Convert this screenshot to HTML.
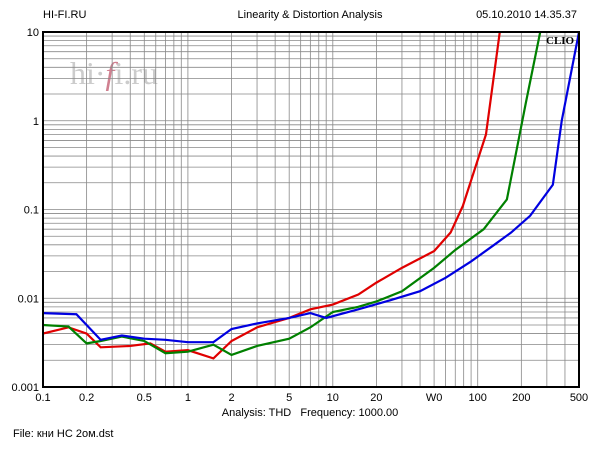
<!DOCTYPE html>
<html><head><meta charset="utf-8"><style>
body{margin:0;background:#fff;width:600px;height:450px;overflow:hidden}
svg text{font-family:"Liberation Sans","Noto Sans CJK SC",sans-serif;font-size:11px;fill:#000}
</style></head><body>
<svg id="s" width="600" height="450" xmlns="http://www.w3.org/2000/svg">
<text x="43" y="18">HI-FI.RU</text>
<text x="310" y="18" text-anchor="middle">Linearity &amp; Distortion Analysis</text>
<text x="577" y="18" text-anchor="end">05.10.2010 14.35.37</text>
<text x="70" y="84" style="font-family:'Liberation Serif',serif;font-size:32px;fill:#ccc">hi·<tspan style="fill:#d08090;font-style:italic">f</tspan>i.ru</text>
<g id="g"></g>
<text x="310" y="416" text-anchor="middle">Analysis: THD&#160;&#160;&#160;Frequency: 1000.00</text>
<text x="13" y="437">File: кни НС 2ом.dst</text>
</svg>
<script>
var L=43,R=579,T=32,B=387,dx=(R-L)/Math.log10(5000),dy=(B-T)/4;
function X(f){return L+Math.log10(f/0.1)*dx}
function Y(v){return T+(1-Math.log10(v))*dy}
var h='';
for(var d=-1;d<3;d++)for(var m=1;m<10;m++){var f=m*Math.pow(10,d);if(f>500||f<=0.1)continue;h+='<line x1="'+X(f)+'" x2="'+X(f)+'" y1="'+T+'" y2="'+B+'" stroke="#888" stroke-width="0.8"/>';}
for(var d=-3;d<1;d++)for(var m=1;m<10;m++){var v=m*Math.pow(10,d);if(v<=0.001)continue;h+='<line x1="'+L+'" x2="'+R+'" y1="'+Y(v)+'" y2="'+Y(v)+'" stroke="#888" stroke-width="0.8"/>';}
function P(a,c){return '<polyline fill="none" stroke="'+c+'" stroke-width="2.2" points="'+a.map(function(p){return X(p[0])+','+Y(p[1])}).join(' ')+'"/>'}
var red=[[0.1,0.004],[0.15,0.0047],[0.2,0.004],[0.25,0.0028],[0.4,0.0029],[0.55,0.0031],[0.7,0.0025],[1,0.0026],[1.5,0.0021],[2,0.0033],[3,0.0047],[5,0.006],[7,0.0075],[10,0.0085],[15,0.011],[20,0.015],[30,0.022],[50,0.034],[65,0.055],[79,0.11],[114,0.7],[142,10]];
var green=[[0.1,0.005],[0.15,0.0048],[0.2,0.0031],[0.25,0.0033],[0.35,0.0037],[0.5,0.0033],[0.7,0.0024],[1,0.0025],[1.5,0.003],[2,0.0023],[3,0.0029],[5,0.0035],[7,0.0047],[10,0.007],[15,0.008],[20,0.0092],[30,0.012],[50,0.022],[70,0.035],[110,0.06],[159,0.13],[215,1.6],[270,10]];
var blue=[[0.1,0.0068],[0.17,0.0066],[0.25,0.0034],[0.35,0.0038],[0.5,0.0035],[0.7,0.0034],[1,0.0032],[1.5,0.0032],[2,0.0045],[3,0.0052],[5,0.006],[7,0.0068],[9,0.006],[15,0.0075],[25,0.0095],[40,0.012],[60,0.017],[90,0.026],[130,0.04],[170,0.055],[230,0.085],[330,0.19],[380,1],[500,10]];
h+='<svg x="'+L+'" y="'+T+'" width="'+(R-L)+'" height="'+(B-T)+'" viewBox="'+L+' '+T+' '+(R-L)+' '+(B-T)+'">'+P(red,'#e00000')+P(green,'#008000')+P(blue,'#0000e0')+'</svg>';
h+='<rect x="'+L+'" y="'+T+'" width="'+(R-L)+'" height="'+(B-T)+'" fill="none" stroke="#000" stroke-width="2"/>';
h+='<text x="546" y="44" style="font-family:\'Liberation Serif\',serif;font-weight:bold;font-size:11px">CLIO</text>';
[['10',10],['1',1],['0.1',0.1],['0.01',0.01],['0.001',0.001]].forEach(function(a){h+='<text x="39" y="'+(Y(a[1])+4)+'" text-anchor="end">'+a[0]+'</text>'});
[['0.1',0.1],['0.2',0.2],['0.5',0.5],['1',1],['2',2],['5',5],['10',10],['20',20],['W0',50],['100',100],['200',200],['500',500]].forEach(function(a){h+='<text x="'+X(a[1])+'" y="401" text-anchor="middle">'+a[0]+'</text>'});
document.getElementById('g').innerHTML=h;
</script>
</body></html>
